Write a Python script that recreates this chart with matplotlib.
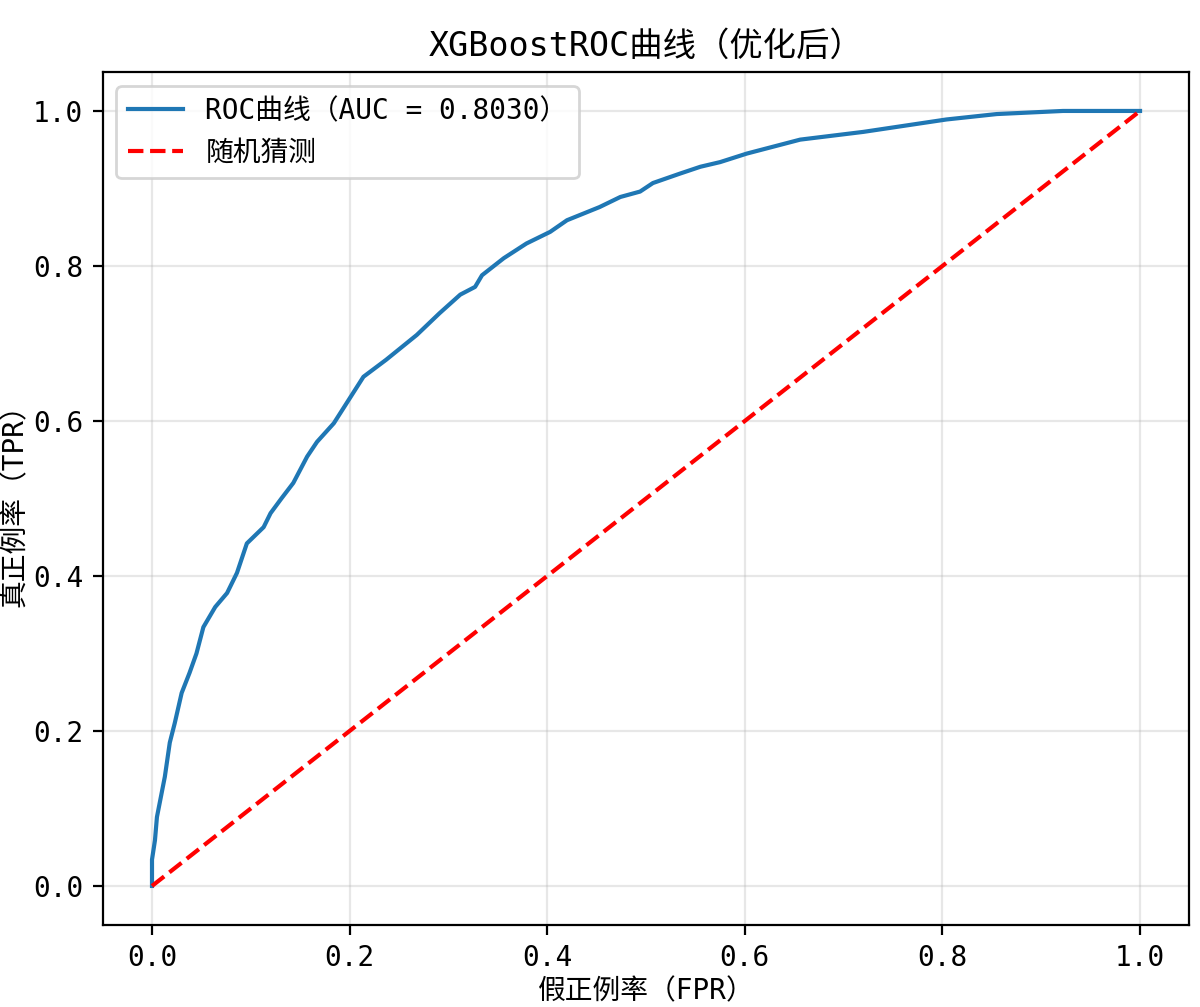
import matplotlib
matplotlib.use("Agg")
import matplotlib.pyplot as plt

plt.rcParams['font.family'] = ['DejaVu Sans Mono', 'Noto Sans CJK SC']
plt.rcParams['axes.unicode_minus'] = False

# values
fpr = [0, 0, 0.003, 0.005, 0.013, 0.018, 0.023, 0.030, 0.038, 0.045, 0.052,
       0.064, 0.076, 0.086, 0.096, 0.113, 0.120, 0.131, 0.143, 0.157, 0.167,
       0.184, 0.197, 0.214, 0.237, 0.268, 0.291, 0.312, 0.327, 0.334, 0.356,
       0.379, 0.403, 0.420, 0.453, 0.474, 0.494, 0.507, 0.534, 0.555, 0.575,
       0.602, 0.629, 0.656, 0.720, 0.804, 0.855, 0.922, 1.0]
tpr = [0, 0.034, 0.059, 0.089, 0.141, 0.185, 0.210, 0.249, 0.275, 0.300, 0.334,
       0.360, 0.378, 0.404, 0.442, 0.463, 0.481, 0.500, 0.520, 0.554, 0.573,
       0.597, 0.623, 0.657, 0.679, 0.711, 0.739, 0.763, 0.773, 0.788, 0.810,
       0.829, 0.844, 0.859, 0.876, 0.889, 0.896, 0.907, 0.919, 0.928, 0.934,
       0.945, 0.954, 0.963, 0.973, 0.989, 0.996, 1.0, 1.0]
auc_value = 0.8030
diag = [0, 1]

fig = plt.figure(figsize=(6, 5.035), dpi=200)
ax = fig.add_axes([0.0855, 0.0817, 0.9057, 0.8466])

ax.plot(fpr, tpr, color='#1f77b4', lw=1.5, label=f'ROC曲线（AUC = {auc_value:.4f}）')
ax.plot(diag, diag, 'r--', lw=1.5, label='随机猜测')

ax.set_xlabel('假正例率（FPR）')
ax.set_ylabel('真正例率（TPR）')
ax.yaxis.set_label_coords(-0.068, 0.5)
ax.xaxis.set_label_coords(0.5, -0.062)
ax.set_title('XGBoostROC曲线（优化后）', fontsize=12)
ax.legend(loc='upper left')
ax.grid(True, alpha=0.3)

fig.savefig('out.png', dpi=200)
